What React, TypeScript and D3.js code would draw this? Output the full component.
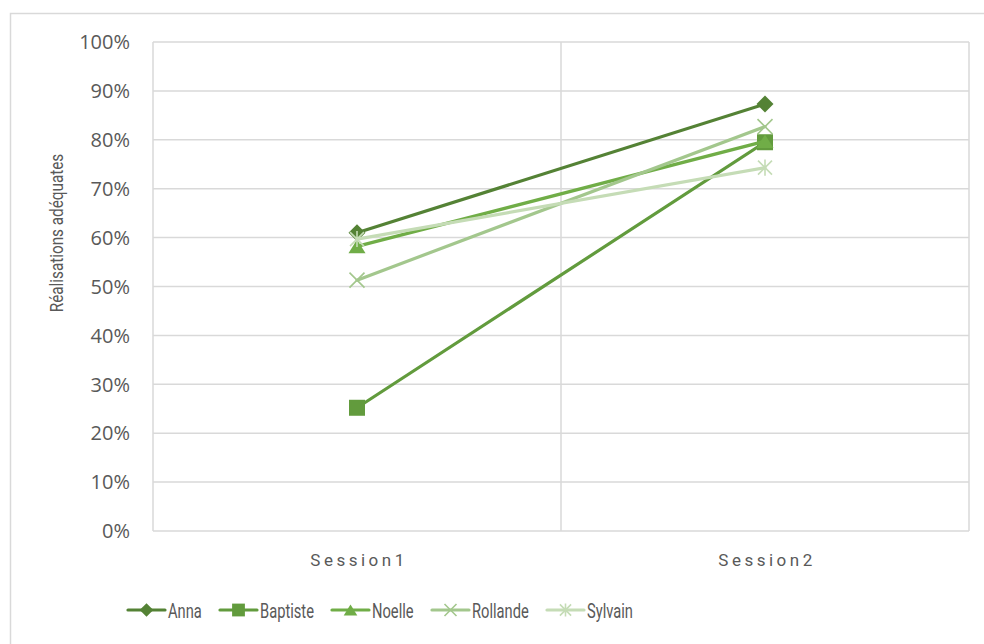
import React from "react";
import * as d3 from "d3";

const categories = ["Session1", "Session2"];
const seriesNames = ["Anna", "Baptiste", "Noelle", "Rollande", "Sylvain"];
const anna = [0.61, 0.873];
const baptiste = [0.252, 0.795];
const noelle = [0.582, 0.797];
const rollande = [0.513, 0.827];
const sylvain = [0.597, 0.743];
const yTicks = [0, 0.1, 0.2, 0.3, 0.4, 0.5, 0.6, 0.7, 0.8, 0.9, 1.0];

const seriesValues = [anna, baptiste, noelle, rollande, sylvain];
const colors = ["#548235", "#629b3d", "#70ad47", "#a3c78d", "#c5dcb6"];
const markers = ["diamond", "square", "triangle", "x", "star"];

const W = 984;
const H = 644;
const plot = { left: 153, right: 969, top: 42, bottom: 531 };

const narrow = "Roboto, 'Liberation Sans', sans-serif";
const wide = "'Open Sans', 'DejaVu Sans', sans-serif";
const textColor = "#595959";

const diamondType = {
  draw(ctx: any, size: number) {
    const r = Math.sqrt(size) / 2;
    ctx.moveTo(0, -r);
    ctx.lineTo(r, 0);
    ctx.lineTo(0, r);
    ctx.lineTo(-r, 0);
    ctx.closePath();
  },
};
const triangleType = {
  draw(ctx: any, size: number) {
    const w = Math.sqrt(size);
    const h = w * 0.8;
    ctx.moveTo(0, -h / 2);
    ctx.lineTo(w / 2, h / 2);
    ctx.lineTo(-w / 2, h / 2);
    ctx.closePath();
  },
};
const xType = {
  draw(ctx: any, size: number) {
    const r = Math.sqrt(size) / 2;
    ctx.moveTo(-r, -r);
    ctx.lineTo(r, r);
    ctx.moveTo(r, -r);
    ctx.lineTo(-r, r);
  },
};
const starType = {
  draw(ctx: any, size: number) {
    const r = Math.sqrt(size) / 2;
    ctx.moveTo(-r, -r);
    ctx.lineTo(r, r);
    ctx.moveTo(r, -r);
    ctx.lineTo(-r, r);
    ctx.moveTo(0, -r * 1.15);
    ctx.lineTo(0, r * 1.15);
  },
};

function markerPath(kind: string, scale: number) {
  if (kind === "diamond") return d3.symbol().type(diamondType as any).size(17 * 17 * scale * scale)();
  if (kind === "square") return d3.symbol().type(d3.symbolSquare).size(16 * 16 * scale * scale)();
  if (kind === "triangle") return d3.symbol().type(triangleType as any).size(17 * 17 * scale * scale)();
  if (kind === "x") return d3.symbol().type(xType as any).size(15 * 15 * scale * scale)();
  return d3.symbol().type(starType as any).size(14 * 14 * scale * scale)();
}

function Marker({ kind, color, x, y, scale }: any) {
  const d = markerPath(kind, scale) || "";
  const stroked = kind === "x" || kind === "star";
  return (
    <path
      d={d}
      transform={`translate(${x},${y})`}
      fill={stroked ? "none" : color}
      stroke={color}
      strokeWidth={stroked ? 1.6 : 0}
    />
  );
}

export default function App() {
  const x = d3.scaleBand<string>().domain(categories).range([plot.left, plot.right]).padding(0);
  const y = d3.scaleLinear().domain([0, 1]).range([plot.bottom, plot.top]);
  const cx = (c: string) => (x(c) as number) + x.bandwidth() / 2;
  const line = d3
    .line<number>()
    .x((_, i) => cx(categories[i]))
    .y((v) => y(v));
  const fmt = d3.format(".0%");

  const legendItems = [
    { lx: 128, tx: 168 },
    { lx: 220, tx: 260 },
    { lx: 332, tx: 372 },
    { lx: 432, tx: 472 },
    { lx: 547, tx: 587 },
  ];
  const legendY = 610;

  const vLines = [plot.left, ...categories.map((c) => (x(c) as number) + x.bandwidth())];

  return (
    <svg width={W} height={H} style={{ position: "absolute", left: 0, top: 0 }}>
      <rect x={0} y={0} width={W} height={H} fill="#ffffff" />
      <rect x={10.5} y={13.5} width={W + 20} height={H + 20} fill="none" stroke="#d9d9d9" strokeWidth={1.5} />
      {yTicks.map((t) => (
        <line key={t} x1={plot.left} x2={plot.right} y1={y(t)} y2={y(t)} stroke="#d9d9d9" strokeWidth={1.5} />
      ))}
      {vLines.map((vx, i) => (
        <line key={i} x1={vx} x2={vx} y1={plot.top} y2={plot.bottom} stroke="#d9d9d9" strokeWidth={1.5} />
      ))}
      {yTicks.map((t) => (
        <text
          key={t}
          x={130}
          y={y(t)}
          dy="0.36em"
          textAnchor="end"
          fontFamily={wide}
          fontSize={20}
          fill={textColor}
        >
          {fmt(t)}
        </text>
      ))}
      {categories.map((c) => (
        <text
          key={c}
          x={cx(c) + 2}
          y={566}
          textAnchor="middle"
          fontFamily={narrow}
          fontSize={17}
          letterSpacing={3.5}
          fill={textColor}
        >
          {c}
        </text>
      ))}
      <text
        transform={`translate(63,${233}) rotate(-90) scale(0.85,1)`}
        textAnchor="middle"
        fontFamily={narrow}
        fontSize={18}
        fill={textColor}
      >
        Réalisations adéquates
      </text>
      {seriesValues.map((vals, si) => (
        <g key={si}>
          <path d={line(vals) || ""} fill="none" stroke={colors[si]} strokeWidth={3.2} strokeLinejoin="round" strokeLinecap="round" />
          {vals.map((v, i) => (
            <Marker key={i} kind={markers[si]} color={colors[si]} x={cx(categories[i])} y={y(v)} scale={1} />
          ))}
        </g>
      ))}
      {seriesNames.map((name, si) => (
        <g key={name}>
          <line
            x1={legendItems[si].lx}
            x2={legendItems[si].lx + 37}
            y1={legendY}
            y2={legendY}
            stroke={colors[si]}
            strokeWidth={3.2}
            strokeLinecap="round"
          />
          <Marker kind={markers[si]} color={colors[si]} x={legendItems[si].lx + 18.5} y={legendY} scale={0.8} />
          <text
            transform={`translate(${legendItems[si].tx},${legendY}) scale(0.7,1)`}
            dy="0.36em"
            fontFamily={narrow}
            fontSize={21}
            fill={textColor}
          >
            {name}
          </text>
        </g>
      ))}
    </svg>
  );
}
